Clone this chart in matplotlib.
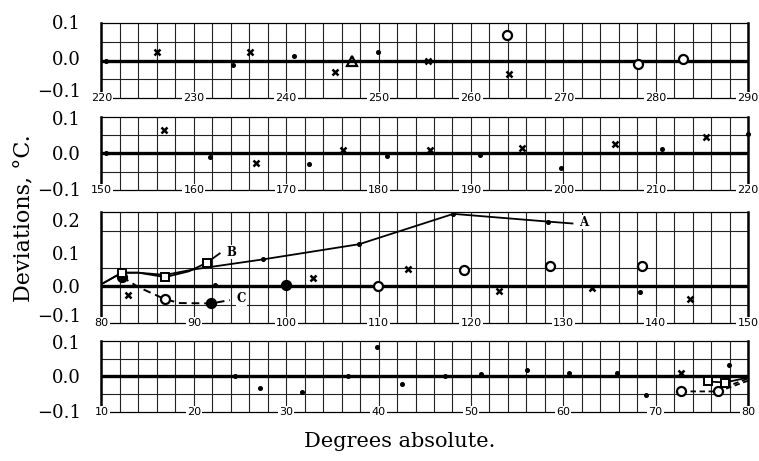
import numpy as np
import matplotlib
matplotlib.use('Agg')
import matplotlib.pyplot as plt
import matplotlib.transforms as mtransforms

plt.rcParams['font.family'] = ['DejaVu Serif']

# panel 1: 220-290 K
p1_dot_x = [220.5, 234.2, 240.8, 249.9]
p1_dot_y = [0.0, -0.011, 0.011, 0.022]
p1_cross_x = [226.0, 236.1, 245.3, 255.4, 264.1]
p1_cross_y = [0.022, 0.022, -0.031, 0.0, -0.037]
p1_circ_x = [263.9, 278.1, 283.0]
p1_circ_y = [0.069, -0.008, 0.005]
p1_tri_x = [247.1]
p1_tri_y = [-0.002]

# panel 2: 150-220 K
p2_dot_x = [150.5, 161.7, 172.5, 180.9, 191.0, 199.8, 210.7, 220.0]
p2_dot_y = [0.0, -0.009, -0.030, -0.007, -0.005, -0.039, 0.013, 0.052]
p2_cross_x = [156.8, 166.7, 176.2, 185.6, 195.5, 205.6, 215.5]
p2_cross_y = [0.063, -0.027, 0.009, 0.009, 0.014, 0.025, 0.045]

# panel 3: 80-150 K
curve_a_x = [80.0, 82.2, 84.0, 86.9, 90.0, 97.5, 107.9, 118.1, 128.4, 131.0]
curve_a_y = [0.005, 0.036, 0.036, 0.030, 0.045, 0.072, 0.113, 0.195, 0.174, 0.169]
curve_b_x = [80.0, 82.2, 84.0, 86.9, 89.5, 91.4, 92.8]
curve_b_y = [0.005, 0.036, 0.036, 0.024, 0.040, 0.063, 0.088]
curve_c_x = [82.2, 84.0, 86.9, 88.5, 91.9, 93.9]
curve_c_y = [0.025, -0.003, -0.036, -0.046, -0.047, -0.038]
p3_dot_x = [92.3, 97.5, 107.9, 118.1, 128.4, 138.3]
p3_dot_y = [0.004, 0.072, 0.113, 0.195, 0.174, -0.015]
p3_cross_x = [82.9, 102.9, 113.2, 123.0, 133.1, 143.7]
p3_cross_y = [-0.025, 0.023, 0.045, -0.014, -0.006, -0.035]
p3_circ_x = [86.9, 109.9, 119.3, 128.6, 138.5]
p3_circ_y = [-0.036, 0.0, 0.043, 0.054, 0.054]
p3_fcirc_x = [82.2, 91.9, 100.0]
p3_fcirc_y = [0.025, -0.047, 0.003]
p3_sq_x = [82.2, 86.9, 91.4]
p3_sq_y = [0.036, 0.024, 0.063]

# panel 4: 10-80 K
p4_dot_x = [24.5, 27.2, 31.7, 36.7, 39.8, 42.5, 47.2, 51.1, 56.1, 60.6, 65.8, 69.0, 77.9]
p4_dot_y = [0.0, -0.031, -0.044, 0.0, 0.084, -0.022, 0.0, 0.006, 0.019, 0.010, 0.010, -0.052, 0.032]
p4_cross_x = [72.7]
p4_cross_y = [0.011]
p4_circ_x = [72.8, 76.8]
p4_circ_y = [-0.042, -0.042]
p4_sq_x = [75.7, 77.5]
p4_sq_y = [-0.014, -0.017]
tail_b_x = [75.7, 77.5, 80.0]
tail_b_y = [-0.014, -0.017, -0.003]
tail_c_x = [72.8, 76.8, 80.0]
tail_c_y = [-0.042, -0.042, -0.012]
tail_c2_x = [77.5, 80.0]
tail_c2_y = [-0.030, -0.006]

fig = plt.figure(figsize=(7.59, 4.61), dpi=100)
L, W = 0.1337, 0.8518
ax1 = fig.add_axes([L, 0.7874, W, 0.1627])
ax2 = fig.add_axes([L, 0.5879, W, 0.1584])
ax3 = fig.add_axes([L, 0.2993, W, 0.2408])
ax4 = fig.add_axes([L, 0.1063, W, 0.1540])


def setup(ax, x0, x1, y0, y1, yticks, shifts=None):
    ax.set_xlim(x0, x1)
    ax.set_ylim(y0, y1)
    ax.set_xticks([])
    ax.set_xticks(np.arange(x0, x1 + 0.1, 2), minor=True)
    ax.set_yticks(np.arange(y0, y1 + 0.001, 0.05), minor=True)
    ax.grid(which='minor', color='#222222', lw=0.8)
    ax.set_yticks(yticks)
    ax.set_yticklabels([f'{v:.1f}'.replace('-', '\u2212') for v in yticks], fontsize=13)
    ax.tick_params(which='both', length=0)
    ax.tick_params(axis='y', pad=15)
    # old plate: some labels sit a little off their grid line
    if shifts:
        for lab, dy in zip(ax.get_yticklabels(), shifts):
            if dy:
                off = mtransforms.ScaledTranslation(0, dy / 72, fig.dpi_scale_trans)
                lab.set_transform(lab.get_transform() + off)
    ax.axhline(0, color='black', lw=2.4, zorder=3)
    ax.spines['left'].set_linewidth(1.8)
    ax.spines['right'].set_linewidth(1.8)
    ax.spines['top'].set_linewidth(0.9)
    ax.spines['bottom'].set_linewidth(0.9)
    trans = mtransforms.blended_transform_factory(ax.transData, ax.transAxes)
    for v in range(x0, x1 + 1, 10):
        ax.text(v, 0, str(v), transform=trans, ha='center', va='center',
                fontsize=8, family='DejaVu Sans', clip_on=False, zorder=6,
                bbox=dict(facecolor='white', edgecolor='none', pad=0.8))


def dots(ax, x, y):
    ax.plot(x, y, 'o', color='black', ms=2.6, zorder=5, clip_on=False)


def crosses(ax, x, y):
    ax.plot(x, y, 'x', color='black', ms=5, mew=1.8, zorder=5)


def circles(ax, x, y, filled=False):
    ax.plot(x, y, 'o', ms=6.5, mec='black', mew=1.6,
            mfc='black' if filled else 'white', zorder=5)


def squares(ax, x, y):
    ax.plot(x, y, 's', ms=6, mec='black', mew=1.4, mfc='white', zorder=5)


setup(ax1, 220, 290, -0.1, 0.1, [-0.1, 0.0, 0.1], shifts=[6, 2, 1])
dots(ax1, p1_dot_x, p1_dot_y)
crosses(ax1, p1_cross_x, p1_cross_y)
circles(ax1, p1_circ_x, p1_circ_y)
ax1.plot(p1_tri_x, p1_tri_y, '^', ms=7.5, mec='black', mew=1.6, mfc='none', zorder=5)

setup(ax2, 150, 220, -0.1, 0.1, [-0.1, 0.0, 0.1], shifts=[1, 0, -1])
dots(ax2, p2_dot_x, p2_dot_y)
crosses(ax2, p2_cross_x, p2_cross_y)

setup(ax3, 80, 150, -0.1, 0.2, [-0.1, 0.0, 0.1, 0.2], shifts=[6, 0, -3, -6])
ax3.plot(curve_a_x, curve_a_y, color='black', lw=1.3, zorder=4)
ax3.plot(curve_b_x, curve_b_y, color='black', lw=1.3, zorder=4)
ax3.plot(curve_c_x, curve_c_y, color='black', lw=1.4, ls=(0, (4, 2.5)), zorder=4)
dots(ax3, p3_dot_x, p3_dot_y)
crosses(ax3, p3_cross_x, p3_cross_y)
circles(ax3, p3_circ_x, p3_circ_y)
circles(ax3, p3_fcirc_x, p3_fcirc_y, filled=True)
squares(ax3, p3_sq_x, p3_sq_y)
for lab, x, y in [('A', curve_a_x[-1], curve_a_y[-1]),
                  ('B', curve_b_x[-1], curve_b_y[-1]),
                  ('C', curve_c_x[-1], curve_c_y[-1])]:
    ax3.annotate(lab, (x, y), xytext=(5, 1), textcoords='offset points',
                 ha='left', va='center', fontsize=8.5, fontweight='bold',
                 bbox=dict(facecolor='white', edgecolor='none', pad=0.5), zorder=6)

setup(ax4, 10, 80, -0.1, 0.1, [-0.1, 0.0, 0.1], shifts=[1, 0, -1])
ax4.plot(tail_b_x, tail_b_y, color='black', lw=1.3, zorder=4)
ax4.plot(tail_c_x, tail_c_y, color='black', lw=1.3, ls=(0, (3, 2)), zorder=4)
ax4.plot(tail_c2_x, tail_c2_y, color='black', lw=1.3, ls=(0, (3, 2)), zorder=4)
dots(ax4, p4_dot_x, p4_dot_y)
crosses(ax4, p4_cross_x, p4_cross_y)
circles(ax4, p4_circ_x, p4_circ_y)
squares(ax4, p4_sq_x, p4_sq_y)

fig.text(0.032, 0.527, 'Deviations, \u00b0C.', rotation=90, ha='center', va='center', fontsize=16)
fig.text(0.527, 0.043, 'Degrees absolute.', ha='center', va='center', fontsize=15)

fig.savefig('out.png', dpi=100)
